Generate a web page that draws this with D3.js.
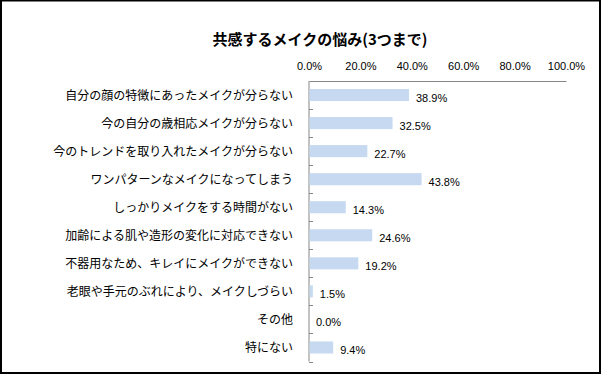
<!DOCTYPE html>
<html><head><meta charset="utf-8">
<script src="https://cdn.jsdelivr.net/npm/d3@7"></script>
<style>body{margin:0;background:#fff}svg{display:block}</style>
</head><body><svg id="c" width="601" height="374"></svg>
<script>
const title = "共感するメイクの悩み(3つまで)";
const categories = [
  "自分の顔の特徴にあったメイクが分らない",
  "今の自分の歳相応メイクが分らない",
  "今のトレンドを取り入れたメイクが分らない",
  "ワンパターンなメイクになってしまう",
  "しっかりメイクをする時間がない",
  "加齢による肌や造形の変化に対応できない",
  "不器用なため、キレイにメイクができない",
  "老眼や手元のぶれにより、メイクしづらい",
  "その他",
  "特にない"
];
const values = [38.9, 32.5, 22.7, 43.8, 14.3, 24.6, 19.2, 1.5, 0.0, 9.4];
const tickValues = [0, 20, 40, 60, 80, 100];

const svg = d3.select("#c");
const W = 601, H = 374;
const m = {left: 309, right: 35, top: 81, bottom: 12.5};

svg.append("rect").attr("x",1).attr("y",0.5).attr("width",W-2).attr("height",H-1.5)
  .attr("fill","#fff").attr("stroke","#000").attr("stroke-width",2);

const x = d3.scaleLinear().domain([0,100]).range([m.left, W - m.right]);
const y = d3.scaleBand().domain(categories).range([m.top, H - m.bottom])
  .paddingInner(0.57).paddingOuter(0.285);
const rows = d3.scaleBand().domain(categories).range([m.top, H - m.bottom]);

svg.append("text").attr("x", 320).attr("y", 45).attr("text-anchor","middle")
  .attr("font-family","'Noto Sans CJK JP'").attr("font-weight","bold")
  .attr("font-size",15).attr("fill","#000").text(title);

// top axis
const gx = svg.append("g").attr("transform",`translate(0,${m.top})`)
  .call(d3.axisTop(x).tickValues(tickValues).tickSize(0).tickSizeOuter(0).tickPadding(11)
    .tickFormat(d => d.toFixed(1) + "%"));
gx.select(".domain").attr("stroke","#868686").attr("stroke-width",1);
gx.selectAll("text").attr("font-family","'Liberation Sans', Arial").attr("font-size",11).attr("fill","#000");

// left axis line and ticks
const gy = svg.append("g");
gy.append("line").attr("x1", m.left).attr("x2", m.left).attr("y1", m.top).attr("y2", H - m.bottom)
  .attr("stroke","#868686").attr("stroke-width",1);
const bounds = categories.map(c => rows(c) + rows.bandwidth());
gy.selectAll("line.t").data(bounds).join("line").attr("class","t")
  .attr("x1", m.left).attr("x2", m.left + 4)
  .attr("y1", d => Math.round(d) + 0.5).attr("y2", d => Math.round(d) + 0.5)
  .attr("stroke","#868686").attr("stroke-width",1);

// bars
svg.selectAll("rect.bar").data(values).join("rect").attr("class","bar")
  .attr("x", x(0) + 0.5)
  .attr("y", (d,i) => y(categories[i]))
  .attr("width", d => Math.max(0, x(d) - x(0) - 0.5))
  .attr("height", y.bandwidth())
  .attr("fill","#C6D9F1");

// value labels
svg.selectAll("text.val").data(values).join("text").attr("class","val")
  .attr("x", d => x(d) + 7)
  .attr("y", (d,i) => y(categories[i]) + y.bandwidth()/2 + 6.5)
  .attr("font-family","'Liberation Sans', Arial").attr("font-size",11).attr("fill","#000")
  .text(d => d.toFixed(1) + "%");

// category labels
svg.selectAll("text.cat").data(categories).join("text").attr("class","cat")
  .attr("x", 293)
  .attr("y", c => rows(c) + rows.bandwidth()/2 + 5)
  .attr("text-anchor","end")
  .attr("font-family","'Noto Sans CJK JP'").attr("font-size",12).attr("fill","#000")
  .text(c => c);
</script></body></html>
